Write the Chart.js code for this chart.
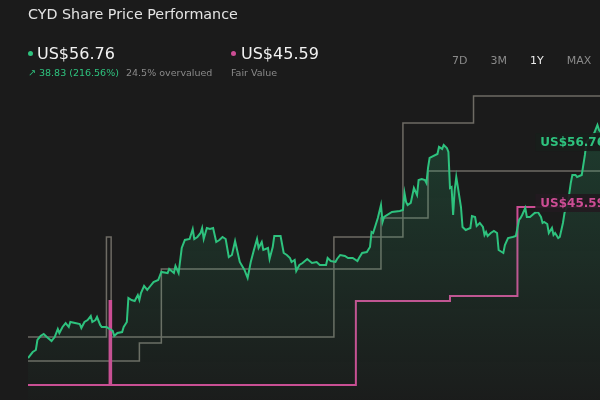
<!DOCTYPE html>
<html>
<head>
<meta charset="utf-8">
<script src="https://cdn.jsdelivr.net/npm/chart.js@4"></script>
<style>
  html, body { margin: 0; padding: 0; background: #1b1b1b; width: 600px; height: 400px; overflow: hidden; }
  body { position: relative; font-family: "DejaVu Sans", sans-serif; }
  #priceChart { position: absolute; left: 0; top: 0; }
  .t { position: absolute; line-height: 1; white-space: nowrap; }
  .dot { position: absolute; width: 5px; height: 5px; border-radius: 50%; }
  #tabs { position: absolute; left: 452px; top: 55px; display: flex; gap: 23px; font-size: 11px; line-height: 1; color: #8a8a8a; }
  #tabs .on { color: #ececec; }
</style>
</head>
<body>
<canvas id="priceChart" width="610" height="400"></canvas>

<div class="t" style="left:28px;top:7px;font-size:14.3px;color:#e4e4e4">CYD Share Price Performance</div>

<div class="dot" style="left:28px;top:50.5px;background:#2ec27e"></div>
<div class="t" id="priceText" style="left:37px;top:46px;font-size:16px;color:#f2f2f2"></div>
<div class="t" id="changeText" style="left:28px;top:68px;font-size:9.5px;color:#2ec27e"></div>
<div class="t" id="valuationText" style="left:126px;top:68px;font-size:9.5px;color:#8a8a8a"></div>

<div class="dot" style="left:231px;top:50.5px;background:#cc4d94"></div>
<div class="t" id="fairText" style="left:241px;top:46px;font-size:16px;color:#f2f2f2"></div>
<div class="t" style="left:231px;top:68px;font-size:9.5px;color:#8a8a8a">Fair Value</div>

<div id="tabs"></div>

<script>
// header values
const currentPrice = 56.76;
const fairValue = 45.59;
const priceChange = 38.83;
const priceChangePct = 216.56;
const overvaluedPct = 24.5;
const ranges = ["7D", "3M", "1Y", "MAX"];
const activeRange = "1Y";

// share price, by day of the 1Y window
const priceDays = [
  0, 3, 5, 6, 8, 10, 12, 15, 17, 19, 20, 22, 24, 26, 27, 30, 33, 34, 36, 38,
  40, 41, 43, 44, 46, 47, 50, 54, 55, 57, 60, 61, 63, 64, 66, 68, 70, 71, 72, 74,
  76, 78, 80, 83, 85, 89, 90, 93, 94, 96,
  98, 100, 103, 105, 106, 108, 110, 111, 112, 114, 116, 118, 120, 122, 124, 126, 128, 130, 132, 133,
  135, 138, 140, 142, 144, 146, 147, 149, 150, 153, 154, 156, 157, 161,
  163, 165, 167, 168, 170, 171, 173, 175, 178, 181, 184, 186, 190, 191, 193, 196, 197, 199, 202, 204,
  207, 210, 211, 213, 216, 218, 219, 220, 223, 225, 226, 227, 232, 237, 239, 240, 241, 242, 244, 246,
  248, 249, 251, 253, 254, 255, 256, 261, 262, 264, 265, 267, 268, 269, 270, 271, 272, 273, 274, 276,
  277, 279, 282, 283, 285, 286, 288, 290, 291, 292, 293, 295, 297, 299, 300, 303, 304, 306, 309, 311,
  313, 314, 315, 317, 318, 320, 323, 325, 327, 328, 329, 331, 332, 334, 335, 336, 338, 339, 341, 342,
  344, 346, 347, 349, 350, 353, 355, 356, 359, 361, 363, 364, 368, 371
];
const priceValues = [
  17.93, 19.03, 19.40, 21.23, 21.96, 22.33, 21.78, 21.04, 21.78, 23.24, 22.51, 23.61, 24.34, 23.61, 24.53, 24.34, 24.16, 23.43, 24.53, 24.89,
  25.62, 24.53, 24.89, 25.44, 23.98, 23.61, 23.61, 22.88, 21.96, 22.51, 22.69, 23.61, 24.53, 28.92, 28.56, 28.37, 29.47, 28.56, 29.84, 31.12,
  30.39, 31.12, 31.85, 32.22, 33.69, 33.50, 34.23, 33.50, 34.78, 33.50,
  38.08, 39.55, 39.73, 41.56, 39.73, 40.10, 40.83, 41.75, 39.73, 41.75, 41.56, 41.75, 39.18, 39.55, 40.10, 39.73, 36.43, 36.80, 39.36, 38.08,
  35.52, 34.05, 32.59, 35.52, 37.72, 39.73, 38.08, 39.18, 37.72, 38.08, 36.07, 38.26, 40.28, 40.28,
  37.17, 36.80, 36.25, 35.52, 35.88, 33.87, 34.97, 35.33, 36.07, 35.33, 35.52, 34.97, 34.97, 36.25, 35.70, 35.52, 36.07, 36.80, 36.62, 36.25,
  36.25, 35.70, 36.25, 37.17, 37.35, 38.26, 41.01, 40.83, 43.58, 45.96, 42.85, 43.76, 44.68, 44.86, 45.04, 48.16, 46.51, 45.96, 46.33, 49.07,
  47.79, 50.54, 50.72, 50.54, 49.99, 52.74, 54.57, 55.30, 56.59, 56.22, 56.95, 56.40, 55.67, 49.07, 49.26, 44.13, 48.71, 51.09, 49.26, 45.59,
  41.93, 41.38, 41.75, 43.94, 43.76, 42.11, 42.66, 41.93, 40.46, 41.01, 40.28, 40.83, 41.20, 40.83, 37.72, 37.17, 38.63, 39.91, 40.10, 40.28,
  43.21, 43.58, 44.13, 45.41, 43.76, 43.76, 44.49, 44.68, 43.76, 42.66, 42.85, 42.48, 40.83, 41.75, 40.46, 40.83, 39.91, 40.10, 42.66, 44.49,
  45.96, 49.99, 51.46, 51.46, 51.09, 51.46, 55.12, 57.50, 58.42, 59.15, 60.62, 59.70, 58.30, 56.76
];

// fair value estimate (stepped)
const fairDays = [0, 52, 53, 209, 269, 312, 371];
const fairValues = [12.98, 28.37, 12.98, 28.37, 29.29, 45.59, 45.59];

// analyst price target range (stepped)
const targetHighDays = [0, 50, 53, 195, 239, 284, 371];
const targetHighValues = [21.78, 40.10, 21.78, 40.10, 60.98, 65.93, 65.93];
const targetLowDays = [0, 71, 85, 225, 255, 371];
const targetLowValues = [17.38, 20.68, 34.23, 43.58, 52.19, 52.19];

const GREEN = "#2ec27e";
const PINK = "#cc4d94";
const GREY = "#6e6b64";

const fmt = (v) => "US$" + v.toFixed(2);

document.getElementById("priceText").textContent = fmt(currentPrice);
document.getElementById("fairText").textContent = fmt(fairValue);
document.getElementById("changeText").textContent = "\u2197 " + priceChange.toFixed(2) + " (" + priceChangePct.toFixed(2) + "%)";
document.getElementById("valuationText").textContent = overvaluedPct + "% overvalued";

const tabs = document.getElementById("tabs");
ranges.forEach((r) => {
  const s = document.createElement("span");
  s.textContent = r;
  if (r === activeRange) s.className = "on";
  tabs.appendChild(s);
});

const toPoints = (xs, ys) => xs.map((x, i) => ({ x: x, y: ys[i] }));

// value tags at the right edge
const endLabels = {
  id: "endLabels",
  afterDatasetsDraw(chart) {
    const { ctx, chartArea, scales } = chart;
    const tags = [
      { value: currentPrice, color: GREEN, bg: "rgba(24,30,27,0.92)" },
      { value: fairValue, color: PINK, bg: "rgba(34,26,31,0.92)" },
    ];
    ctx.save();
    ctx.font = "bold 12px 'DejaVu Sans', sans-serif";
    ctx.textBaseline = "middle";
    ctx.textAlign = "right";
    tags.forEach((t) => {
      const y = scales.y.getPixelForValue(t.value) - 4;
      const text = fmt(t.value);
      const w = ctx.measureText(text).width;
      const right = chartArea.right - 5;
      ctx.fillStyle = t.bg;
      ctx.fillRect(right - w - 5, y - 9, w + 10, 18);
      ctx.fillStyle = t.color;
      ctx.fillText(text, right, y + 0.5);
    });
    ctx.restore();
  },
};

new Chart(document.getElementById("priceChart"), {
  type: "line",
  data: {
    datasets: [
      {
        label: "Share Price",
        data: toPoints(priceDays, priceValues),
        borderColor: GREEN,
        borderWidth: 2,
        tension: 0,
        fill: "start",
        backgroundColor: (c) => {
          const area = c.chart.chartArea;
          if (!area) return null;
          const g = c.chart.ctx.createLinearGradient(0, area.top, 0, area.bottom);
          g.addColorStop(0, "rgba(46,194,126,0.22)");
          g.addColorStop(1, "rgba(46,194,126,0.01)");
          return g;
        },
      },
      {
        label: "Fair Value",
        data: toPoints(fairDays, fairValues),
        borderColor: PINK,
        borderWidth: 2,
        stepped: true,
        fill: false,
      },
      {
        label: "Target High",
        data: toPoints(targetHighDays, targetHighValues),
        borderColor: GREY,
        borderWidth: 1.5,
        stepped: true,
        fill: false,
      },
      {
        label: "Target Low",
        data: toPoints(targetLowDays, targetLowValues),
        borderColor: GREY,
        borderWidth: 1.5,
        stepped: true,
        fill: false,
      },
    ],
  },
  options: {
    responsive: false,
    animation: false,
    layout: { padding: { top: 90, left: 28, right: 0, bottom: 0 } },
    elements: { point: { radius: 0 } },
    plugins: { legend: { display: false }, tooltip: { enabled: false } },
    scales: {
      x: { type: "linear", min: 0, max: 371, display: false },
      y: { min: 10.24, max: 67.02, display: false },
    },
  },
  plugins: [endLabels],
});
</script>
</body>
</html>
